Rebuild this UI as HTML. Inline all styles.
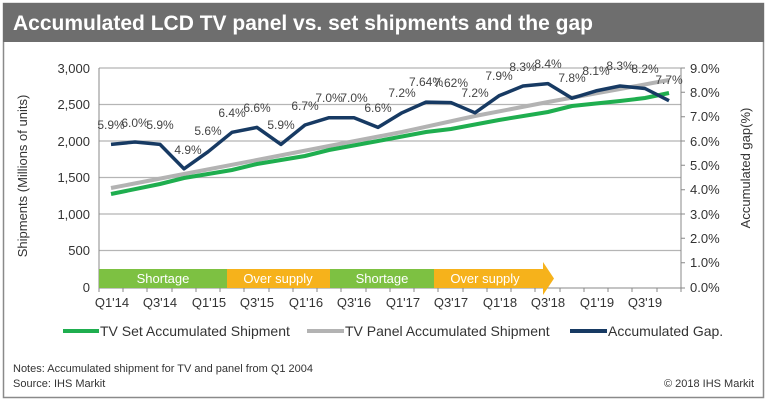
<!DOCTYPE html>
<html><head><meta charset="utf-8"><style>
html,body{margin:0;padding:0;background:#fff;}
svg{display:block;font-family:"Liberation Sans",Arial,sans-serif;}
</style></head><body>
<svg width="768" height="404" viewBox="0 0 768 404" xmlns="http://www.w3.org/2000/svg">
<rect x="0" y="0" width="768" height="404" fill="#fff"/>
<rect x="3.5" y="3.5" width="760" height="394" fill="#fff" stroke="#8a8a8a" stroke-width="1.5"/>
<rect x="3" y="3" width="761" height="39" fill="#6e6e6e"/>
<text x="13" y="30" font-size="21" font-weight="bold" fill="#fff">Accumulated LCD TV panel vs. set shipments and the gap</text>

<g stroke="#b5b5b5" stroke-width="1.2">
<line x1="99" y1="68" x2="681" y2="68"/>
<line x1="99" y1="104.5" x2="681" y2="104.5"/>
<line x1="99" y1="141" x2="681" y2="141"/>
<line x1="99" y1="177.5" x2="681" y2="177.5"/>
<line x1="99" y1="214" x2="681" y2="214"/>
<line x1="99" y1="250.5" x2="681" y2="250.5"/>
</g>
<g stroke="#888" stroke-width="1">
<line x1="99" y1="68" x2="99" y2="288"/>
<line x1="681" y1="68" x2="681" y2="288"/>
<line x1="99" y1="288" x2="681" y2="288"/>
</g>
<rect x="99" y="269" width="128" height="19" fill="#7dc142"/>
<rect x="227" y="269" width="103" height="19" fill="#f6b21b"/>
<rect x="330" y="269" width="104" height="19" fill="#7dc142"/>
<polygon points="434,269 543,269 543,262 554,278.5 543,295 543,288 434,288" fill="#f6b21b"/>
<g font-size="13" fill="#fff" text-anchor="middle">
<text x="163" y="283">Shortage</text>
<text x="278" y="283">Over supply</text>
<text x="382" y="283">Shortage</text>
<text x="485" y="283">Over supply</text>
</g>
<g stroke="#888" stroke-width="1">
<path d="M99 288v4M123 288v4M147 288v4M172 288v4M196 288v4M220 288v4M244 288v4M269 288v4M293 288v4M317 288v4M341 288v4M366 288v4M390 288v4M414 288v4M438 288v4M463 288v4M487 288v4M511 288v4M535 288v4M560 288v4M584 288v4M608 288v4M632 288v4M657 288v4M681 288v4"/>
<path d="M681 68h4M681 92.3h4M681 116.7h4M681 141h4M681 165.3h4M681 189.7h4M681 214h4M681 238.3h4M681 262.7h4M681 288h4"/>
</g>
<polyline fill="none" stroke="#b3b3b3" stroke-width="4" points="111,188 184,174 257,160 329,146 402,132 475,116 548,102 620,89 669,80"/>
<polyline fill="none" stroke="#1fae4f" stroke-width="4" points="111,194 160,184 184,178 232,170 257,164 305,156 329,150 378,141 426,132 451,129 499,120 548,112 572,106 620,101 645,98 669,93"/>
<polyline fill="none" stroke="#173a63" stroke-width="3.5" stroke-linejoin="round" points="111,144.4 135,142 160,144.4 184,168.8 208,151.8 232,132.3 257,127.4 281,144.4 305,125 329,117.7 354,117.7 378,127.4 402,112.8 426,102.1 451,102.6 475,112.8 499,95.8 523,86 548,83.6 572,98.2 596,90.9 620,86 645,88.5 669,100.7"/>
<g font-size="12" fill="#444" text-anchor="middle">
<text x="111" y="129">5.9%</text><text x="135" y="127">6.0%</text><text x="160" y="129">5.9%</text>
<text x="188" y="154">4.9%</text><text x="208" y="135">5.6%</text><text x="232" y="117">6.4%</text>
<text x="257" y="112">6.6%</text><text x="281" y="129">5.9%</text><text x="305" y="110">6.7%</text>
<text x="329" y="102">7.0%</text><text x="354" y="102">7.0%</text><text x="378" y="112">6.6%</text>
<text x="402" y="97">7.2%</text><text x="426" y="86">7.64%</text><text x="451" y="87">7.62%</text>
<text x="475" y="97">7.2%</text><text x="499" y="80">7.9%</text><text x="523" y="71">8.3%</text>
<text x="548" y="68">8.4%</text><text x="572" y="82">7.8%</text><text x="596" y="75">8.1%</text>
<text x="620" y="70">8.3%</text><text x="645" y="73">8.2%</text><text x="669" y="84">7.7%</text>
</g>
<g font-size="13" fill="#333" text-anchor="end">
<text x="90" y="73">3,000</text><text x="90" y="109">2,500</text><text x="90" y="146">2,000</text>
<text x="90" y="182">1,500</text><text x="90" y="219">1,000</text><text x="90" y="255">500</text>
<text x="90" y="292">0</text>
</g>
<g font-size="13" fill="#333">
<text x="690" y="73">9.0%</text><text x="690" y="97">8.0%</text><text x="690" y="121">7.0%</text>
<text x="690" y="146">6.0%</text><text x="690" y="170">5.0%</text><text x="690" y="194">4.0%</text>
<text x="690" y="219">3.0%</text><text x="690" y="243">2.0%</text><text x="690" y="267">1.0%</text>
<text x="690" y="292">0.0%</text>
</g>
<g font-size="13" fill="#333" text-anchor="middle">
<text x="112" y="307">Q1'14</text><text x="160" y="307">Q3'14</text><text x="209" y="307">Q1'15</text>
<text x="257" y="307">Q3'15</text><text x="306" y="307">Q1'16</text><text x="354" y="307">Q3'16</text>
<text x="403" y="307">Q1'17</text><text x="451" y="307">Q3'17</text><text x="500" y="307">Q1'18</text>
<text x="548" y="307">Q3'18</text><text x="597" y="307">Q1'19</text><text x="645" y="307">Q3'19</text>
</g>
<text transform="translate(27,176) rotate(-90)" font-size="13" fill="#333" text-anchor="middle">Shipments (Millions of units)</text>
<text transform="translate(750,168) rotate(-90)" font-size="13" fill="#333" text-anchor="middle">Accumulated gap(%)</text>
<line x1="63" y1="331" x2="99" y2="331" stroke="#1fae4f" stroke-width="4"/>
<text x="100" y="336" font-size="14" fill="#333">TV Set Accumulated Shipment</text>
<line x1="307" y1="331" x2="344" y2="331" stroke="#b3b3b3" stroke-width="4"/>
<text x="345" y="336" font-size="14" fill="#333">TV Panel Accumulated Shipment</text>
<line x1="570" y1="331" x2="607" y2="331" stroke="#173a63" stroke-width="4"/>
<text x="608" y="336" font-size="14" fill="#333">Accumulated Gap.</text>
<text x="13" y="372" font-size="11" fill="#333">Notes: Accumulated shipment for TV and panel from Q1 2004</text>
<text x="13" y="387" font-size="11" fill="#333">Source: IHS Markit</text>
<text x="754" y="387" font-size="11" fill="#333" text-anchor="end">© 2018 IHS Markit</text>
</svg>
</body></html>
